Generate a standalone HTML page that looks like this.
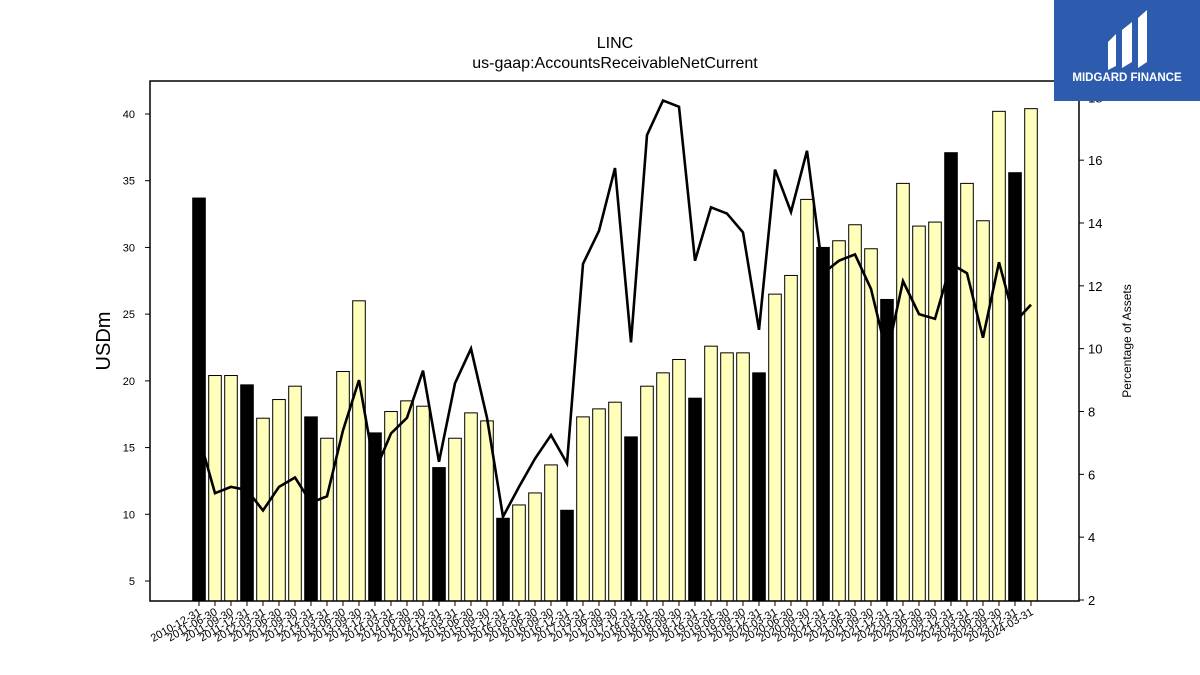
<!DOCTYPE html>
<html><head><meta charset="utf-8"><style>
html,body{margin:0;padding:0;background:#fff;}
svg{display:block;font-family:"Liberation Sans","DejaVu Sans",sans-serif;}
</style></head><body>
<svg id="chart" width="1200" height="675" viewBox="0 0 1200 675" xmlns="http://www.w3.org/2000/svg">
<rect width="1200" height="675" fill="#fff"/>
<text x="615" y="48" font-size="16" text-anchor="middle">LINC</text>
<text x="615" y="68" font-size="16" text-anchor="middle">us-gaap:AccountsReceivableNetCurrent</text>
<g id="bars"></g>
<g id="line"></g>
<rect x="150" y="81" width="929" height="520" fill="none" stroke="#000" stroke-width="1.5"/>
<g id="yleft"></g>
<g id="yright"></g>
<g id="xaxis"></g>
<text transform="translate(110,341) rotate(-90)" font-size="20" text-anchor="middle">USDm</text>
<text transform="translate(1131,341) rotate(-90)" font-size="12" text-anchor="middle">Percentage of Assets</text>
<g>
<rect x="1054" y="0" width="146" height="101" fill="#2d5bad"/>
<path d="M1108 42 L1116 34 L1116 66 L1108 70 Z M1122 30 L1132 22 L1132 62 L1122 68 Z M1138 18 L1147 10 L1147 62 L1138 68 Z" fill="#fff"/>
<text x="1127" y="81" font-size="11.5" font-weight="bold" fill="#fff" text-anchor="middle">MIDGARD FINANCE</text>
</g>
</svg>
<script>
const categories=["2010-12-31","2011-06-30","2011-09-30","2011-12-31","2012-03-31","2012-06-30","2012-09-30","2012-12-31","2013-03-31","2013-06-30","2013-09-30","2013-12-31","2014-03-31","2014-06-30","2014-09-30","2014-12-31","2015-03-31","2015-06-30","2015-09-30","2015-12-31","2016-03-31","2016-06-30","2016-09-30","2016-12-31","2017-03-31","2017-06-30","2017-09-30","2017-12-31","2018-03-31","2018-06-30","2018-09-30","2018-12-31","2019-03-31","2019-06-30","2019-09-30","2019-12-31","2020-03-31","2020-06-30","2020-09-30","2020-12-31","2021-03-31","2021-06-30","2021-09-30","2021-12-31","2022-03-31","2022-06-30","2022-09-30","2022-12-31","2023-03-31","2023-06-30","2023-09-30","2023-12-31","2024-03-31"];
const receivables=[33.7,20.4,20.4,19.7,17.2,18.6,19.6,17.3,15.7,20.7,26.0,16.1,17.7,18.5,18.1,13.5,15.7,17.6,17.0,9.7,10.7,11.6,13.7,10.3,17.3,17.9,18.4,15.8,19.6,20.6,21.6,18.7,22.6,22.1,22.1,20.6,26.5,27.9,33.6,30.0,30.5,31.7,29.9,26.1,34.8,31.6,31.9,37.1,34.8,32.0,40.2,35.6,40.4];
const pctAssets=[7.2,5.4,5.6,5.5,4.85,5.6,5.9,5.1,5.3,7.4,9.0,6.1,7.3,7.8,9.3,6.4,8.9,10.0,7.8,4.65,5.6,6.5,7.25,6.35,12.7,13.75,15.75,10.2,16.8,17.9,17.7,12.8,14.5,14.3,13.7,10.6,15.7,14.35,16.3,12.4,12.8,13.0,11.9,9.8,12.15,11.1,10.95,12.7,12.4,10.35,12.75,10.85,11.4];
const leftTicks=[5,10,15,20,25,30,35,40];
const rightTicks=[2,4,6,8,10,12,14,16,18];

const NS="http://www.w3.org/2000/svg";
function mk(t,a,p){const e=document.createElementNS(NS,t);for(const k in a)e.setAttribute(k,a[k]);p.appendChild(e);return e;}
const x=i=>199+i*(1031-199)/(categories.length-1);
const yL=v=>581-(v-5)*(581-114)/35;
const yR=v=>600-(v-2)*(537-160)/12*(1/1);
const bw=12.6;
const bars=document.getElementById('bars');
receivables.forEach((v,i)=>{
  const annual=categories[i].endsWith('12-31');
  const r=mk('rect',{x:x(i)-bw/2,y:yL(v),width:bw,height:601-yL(v),fill:annual?'#000':'#ffffbb',stroke:'#000','stroke-width':1},bars);
  
  
});
const lineG=document.getElementById('line');
const pl=mk('polyline',{points:pctAssets.map((v,i)=>x(i)+','+yR(v)).join(' '),fill:'none',stroke:'#000','stroke-width':2.6,'stroke-linejoin':'miter'},lineG);


const yl=document.getElementById('yleft');
leftTicks.forEach(v=>{
  const t=mk('line',{x1:145,x2:150,y1:yL(v),y2:yL(v),stroke:'#000'},yl);
  
  
  const l=mk('text',{x:135,y:yL(v)+4,'font-size':11,'text-anchor':'end'},yl);l.textContent=v;
  
  
});
const yr=document.getElementById('yright');
rightTicks.forEach(v=>{
  const t=mk('line',{x1:1079,x2:1084,y1:yR(v),y2:yR(v),stroke:'#000'},yr);
  
  
  const l=mk('text',{x:1088,y:yR(v)+5,'font-size':13},yr);l.textContent=v;
  
  
});
const xa=document.getElementById('xaxis');
categories.forEach((c,i)=>{
  const t=mk('line',{x1:x(i),x2:x(i),y1:601,y2:606,stroke:'#000'},xa);
  
  
  const l=mk('text',{transform:`translate(${x(i)+3},${614}) rotate(-30)`,'font-size':11,'text-anchor':'end'},xa);l.textContent=c;
  
  
});
</script>
</body></html>
